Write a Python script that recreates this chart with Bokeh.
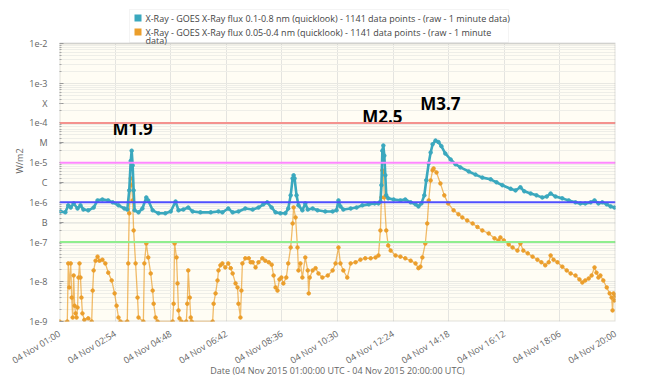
from bokeh.plotting import figure
from bokeh.models import (Range1d, FixedTicker, CustomJSTickFormatter, Span, BoxAnnotation,
                          Label, ColumnDataSource)
from bokeh.embed import file_html
from bokeh.resources import INLINE
from bokeh.core.properties import value

# ---------------- data ----------------
long_times = [
    "01:02", "01:12", "01:18", "01:23", "01:29", "01:37", "01:43", "01:49", "01:59", "02:10",
    "02:18", "02:28", "02:40", "02:49", "03:01", "03:13", "03:19", "03:23", "03:26", "03:28",
    "03:30", "03:32", "03:34", "03:42", "03:50", "03:58", "04:02", "04:11", "04:23", "04:37",
    "04:48", "04:58", "05:04", "05:14", "05:24", "05:33", "05:49", "06:10", "06:26", "06:34",
    "06:46", "06:55", "07:07", "07:21", "07:36", "07:48", "07:58", "08:06", "08:15", "08:23",
    "08:33", "08:43", "08:49", "08:54", "08:58", "09:00", "09:02", "09:06", "09:10", "09:18",
    "09:24", "09:29", "09:39", "09:49", "10:05", "10:20", "10:28", "10:32", "10:36", "10:42",
    "10:57", "11:09", "11:21", "11:34", "11:46", "11:54", "11:58", "12:00", "12:02", "12:04",
    "12:06", "12:08", "12:10", "12:14", "12:25", "12:39", "12:49", "13:00", "13:10", "13:16",
    "13:22", "13:28", "13:32", "13:37", "13:41", "13:45", "13:51", "13:57", "14:03", "14:11",
    "14:22", "14:32", "14:42", "14:59", "15:13", "15:27", "15:44", "15:56", "16:08", "16:25",
    "16:35", "16:45", "16:53", "17:06", "17:18", "17:30", "17:39", "17:47", "17:57", "18:11",
    "18:24", "18:38", "18:48", "18:58", "19:09", "19:17", "19:25", "19:33", "19:42", "19:50",
    "19:58",
]
long_flux = [
    5.9e-7, 5.6e-7, 8.4e-7, 7.4e-7, 9.4e-7, 7.0e-7, 8.4e-7, 6.6e-7, 6.3e-7, 7.4e-7,
    1.12e-6, 1.18e-6, 1.12e-6, 1.0e-6, 8.4e-7, 7.0e-7, 6.6e-7, 2.0e-6, 1.1e-5, 2.0e-5,
    8.5e-6, 2.0e-6, 6.3e-7, 5.6e-7, 7.0e-7, 1.33e-6, 1.12e-6, 6.3e-7, 5.3e-7, 5.3e-7,
    5.9e-7, 1.05e-6, 6.3e-7, 6.6e-7, 7.4e-7, 5.9e-7, 5.6e-7, 5.6e-7, 5.9e-7, 5.6e-7,
    7.0e-7, 5.6e-7, 5.9e-7, 7.0e-7, 6.6e-7, 7.4e-7, 8.9e-7, 1.0e-6, 7.4e-7, 5.6e-7,
    5.3e-7, 5.3e-7, 7.0e-7, 1.5e-6, 4.0e-6, 4.8e-6, 4.0e-6, 1.5e-6, 8.4e-7, 6.3e-7,
    9.4e-7, 6.6e-7, 7.0e-7, 6.3e-7, 5.9e-7, 5.9e-7, 6.3e-7, 1.12e-6, 7.9e-7, 6.6e-7,
    7.0e-7, 7.4e-7, 8.4e-7, 8.9e-7, 9.4e-7, 9.4e-7, 1.05e-6, 2.7e-6, 2.0e-5, 2.7e-5,
    1.5e-5, 4.8e-6, 1.5e-6, 1.26e-6, 1.18e-6, 1.12e-6, 1.18e-6, 1.0e-6, 8.9e-7, 7.9e-7,
    9.4e-7, 1.5e-6, 3.6e-6, 9.6e-6, 1.8e-5, 2.9e-5, 3.6e-5, 3.3e-5, 2.6e-5, 1.7e-5,
    1.2e-5, 9.1e-6, 7.6e-6, 6.0e-6, 5.0e-6, 4.2e-6, 3.8e-6, 3.2e-6, 2.7e-6, 2.2e-6,
    2.0e-6, 2.4e-6, 1.9e-6, 1.67e-6, 1.5e-6, 1.33e-6, 1.4e-6, 1.67e-6, 1.4e-6, 1.26e-6,
    1.12e-6, 1.0e-6, 9.4e-7, 9.4e-7, 1.0e-6, 1.12e-6, 9.4e-7, 1.0e-6, 8.9e-7, 7.9e-7,
    7.4e-7,
]

short_times = [
    "01:00", "01:16", "01:18", "01:20", "01:23", "01:25", "01:27", "01:29", "01:31", "01:33",
    "01:35", "01:37", "01:39", "01:41", "01:43", "01:45", "01:47", "01:51", "01:59", "02:06",
    "02:08", "02:10", "02:14", "02:18", "02:22", "02:28", "02:34", "02:40", "02:47", "02:53",
    "02:57", "03:01", "03:05", "03:19", "03:21", "03:23", "03:26", "03:28", "03:30", "03:32",
    "03:36", "03:40", "03:42", "03:52", "03:54", "03:58", "04:02", "04:07", "04:11", "04:13",
    "04:17", "04:21", "04:52", "04:54", "04:56", "05:00", "05:02", "05:04", "05:06", "05:10",
    "05:20", "05:22", "05:24", "05:27", "05:29", "05:31", "06:14", "06:16", "06:20", "06:24",
    "06:26", "06:30", "06:34", "06:40", "06:46", "06:51", "06:55", "07:01", "07:05", "07:07",
    "07:11", "07:13", "07:15", "07:21", "07:28", "07:32", "07:36", "07:42", "07:48", "07:56",
    "08:02", "08:09", "08:15", "08:19", "08:23", "08:27", "08:31", "08:35", "08:39", "08:45",
    "08:49", "08:54", "08:58", "09:00", "09:04", "09:08", "09:10", "09:14", "09:18", "09:24",
    "09:29", "09:31", "09:33", "09:39", "09:45", "09:51", "09:59", "10:10", "10:20", "10:26",
    "10:32", "10:36", "10:42", "10:50", "10:57", "11:07", "11:17", "11:27", "11:38", "11:48",
    "11:54", "11:58", "12:00", "12:02", "12:04", "12:06", "12:10", "12:14", "12:19", "12:29",
    "12:39", "12:49", "13:00", "13:10", "13:16", "13:20", "13:24", "13:30", "13:34", "13:37",
    "13:41", "13:45", "13:47", "13:53", "14:01", "14:09", "14:17", "14:28", "14:38", "14:46",
    "14:56", "15:07", "15:17", "15:27", "15:40", "15:52", "16:00", "16:04", "16:11", "16:21",
    "16:29", "16:39", "16:45", "16:51", "17:00", "17:10", "17:20", "17:28", "17:36", "17:43",
    "17:47", "17:53", "18:01", "18:11", "18:20", "18:28", "18:38", "18:46", "18:52", "18:58",
    "19:05", "19:11", "19:17", "19:21", "19:25", "19:29", "19:35", "19:42", "19:48", "19:52",
    "19:54", "19:56", "19:58", "20:00",
]
short_flux = [
    1e-9, 1e-9, 2.9e-8, 7.2e-9, 2.9e-8, 4.0e-9, 1.26e-9, 1.44e-8, 2.5e-9, 1.6e-9,
    1.26e-9, 2.25e-9, 1.28e-8, 2.9e-8, 1.28e-8, 4.0e-9, 1.6e-9, 1.1e-9, 1.2e-9, 1e-9,
    6.0e-9, 1.93e-8, 3.4e-8, 4.3e-8, 3.4e-8, 3.6e-8, 2.9e-8, 1.7e-8, 1.08e-8, 5.1e-9,
    2.5e-9, 1.26e-9, 1e-9, 1e-9, 2.9e-8, 5.3e-7, 4.0e-6, 2.7e-6, 1.12e-6, 1.96e-7,
    2.9e-8, 4.0e-9, 1.26e-9, 1e-9, 2.9e-8, 9.2e-8, 4.1e-8, 1.62e-8, 6.0e-9, 2.8e-9,
    1.26e-9, 1e-9, 1e-9, 2.8e-9, 9.2e-8, 4.1e-8, 9.1e-9, 1.9e-9, 1.2e-9, 1e-9,
    1e-9, 2.8e-9, 1.93e-8, 4.0e-9, 1.26e-9, 1e-9, 1e-9, 2.8e-9, 5.1e-9, 1.08e-8,
    1.93e-8, 2.6e-8, 2.9e-8, 2.3e-8, 2.9e-8, 2.2e-8, 1.62e-8, 9.1e-9, 7.2e-9, 2.8e-9,
    1.26e-9, 6.0e-9, 2.9e-8, 3.9e-8, 3.9e-8, 3.1e-8, 3.1e-8, 2.3e-8, 3.1e-8, 3.9e-8,
    3.4e-8, 3.1e-8, 2.7e-8, 1.44e-8, 7.2e-9, 6.0e-9, 1.15e-8, 1.28e-8, 9.1e-9, 1.28e-8,
    2.9e-8, 7.3e-8, 2.94e-7, 7.45e-7, 4.17e-7, 7.3e-8, 1.93e-8, 2.9e-8, 1.28e-8, 4.1e-8,
    1.93e-8, 5.1e-9, 1.28e-8, 1.93e-8, 2.2e-8, 1.62e-8, 1.28e-8, 1.44e-8, 1.93e-8, 2.9e-8,
    7.3e-8, 2.9e-8, 1.93e-8, 1.28e-8, 2.9e-8, 3.1e-8, 3.6e-8, 3.9e-8, 3.9e-8, 4.1e-8,
    4.6e-8, 1.96e-7, 1.33e-6, 6.4e-6, 5.7e-6, 1.33e-6, 1.96e-7, 8.2e-8, 6.1e-8, 4.6e-8,
    4.3e-8, 3.9e-8, 3.4e-8, 2.9e-8, 2.2e-8, 2.4e-8, 4.1e-8, 9.2e-8, 2.94e-7, 1.12e-6,
    3.56e-6, 6.4e-6, 7.15e-6, 5.66e-6, 2.99e-6, 1.5e-6, 9.4e-7, 6.3e-7, 5.0e-7, 4.17e-7,
    3.5e-7, 2.94e-7, 2.4e-7, 1.96e-7, 1.65e-7, 1.24e-7, 1.10e-7, 1.31e-7, 1.10e-7, 8.7e-8,
    7.3e-8, 6.1e-8, 9.2e-8, 6.1e-8, 5.2e-8, 4.3e-8, 3.6e-8, 3.1e-8, 2.6e-8, 3.1e-8,
    4.6e-8, 3.6e-8, 3.1e-8, 2.4e-8, 1.93e-8, 1.62e-8, 1.44e-8, 1.15e-8, 9.6e-9, 1.08e-8,
    1.21e-8, 1.44e-8, 2.3e-8, 1.7e-8, 1.28e-8, 1.44e-8, 1.08e-8, 7.2e-9, 5.1e-9, 4.0e-9,
    1.9e-9, 5.1e-9, 3.4e-9, 4.5e-9,
]

x_tick_times = ["01:00", "02:54", "04:48", "06:42", "08:36", "10:30",
                "12:24", "14:18", "16:12", "18:06", "20:00"]
y_decades = [1e-9, 1e-8, 1e-7, 1e-6, 1e-5, 1e-4, 1e-3, 1e-2]
class_letters = ["B", "C", "M", "X"]
class_positions = [3.1623e-7, 3.1623e-6, 3.1623e-5, 3.1623e-4]
threshold_levels = [1e-4, 1e-5, 1e-6, 1e-7]
threshold_colors = ["#f4928e", "#ff88ff", "#4f4fff", "#8fee8f"]
flare_names = ["M1.9", "M2.5", "M3.7"]
flare_label_times = ["03:30", "12:02", "14:01"]
flare_label_flux = [7.3e-5, 1.46e-4, 3.1e-4]

legend_long = "X-Ray - GOES X-Ray flux 0.1-0.8 nm (quicklook) - 1141 data points -  (raw - 1 minute data)"
legend_short_lines = ["X-Ray - GOES X-Ray flux 0.05-0.4 nm (quicklook) - 1141 data points -  (raw - 1 minute",
                      "data)"]
x_title = "Date (04 Nov 2015 01:00:00 UTC - 04 Nov 2015 20:00:00 UTC)"

assert len(long_times) == len(long_flux)
assert len(short_times) == len(short_flux)


def to_min(s):
    h, m = s.split(":")
    return int(h) * 60 + int(m)


TEAL = "#3aa8be"
ORANGE = "#eb9e2b"
FONT = "Open Sans"

# layout (pixels): plot box 59..615 x 43..321; the frame extends to the top edge
# so that the legend (drawn inside the frame) can sit above the plot box.
BOX_TOP_PX, BOX_BOTTOM_PX = 43, 321
px_per_decade = (BOX_BOTTOM_PX - BOX_TOP_PX) / 7.0
y_top = 1e-2 * 10 ** (BOX_TOP_PX / px_per_decade)
x0, x1 = to_min(x_tick_times[0]), to_min(x_tick_times[-1])

p = figure(width=654, height=381, y_axis_type="log",
           x_range=Range1d(x0, x1), y_range=Range1d(y_decades[0], y_top),
           output_backend="svg", toolbar_location=None,
           min_border_left=59, min_border_right=39, min_border_top=0, min_border_bottom=60)
p.background_fill_color = "white"
p.border_fill_color = "white"
p.outline_line_color = None

# plot box background and frame
p.add_layout(BoxAnnotation(left=x0, right=x1, bottom=y_decades[0], top=y_decades[-1],
                           fill_color="#fffdf4", fill_alpha=1.0, line_color=None, level="image"))
p.add_layout(BoxAnnotation(left=x0, right=x1, bottom=y_decades[0], top=y_decades[-1],
                           fill_color=None, fill_alpha=0, line_color="#9c9c9c", line_width=2,
                           level="overlay"))

# threshold lines
for lev, col in zip(threshold_levels, threshold_colors):
    p.add_layout(Span(location=lev, dimension="width", line_color=col, line_width=2))

long_src = ColumnDataSource(dict(t=[to_min(s) for s in long_times], f=long_flux))
short_src = ColumnDataSource(dict(t=[to_min(s) for s in short_times], f=short_flux))

p.line("t", "f", source=short_src, color=ORANGE, line_width=1.3, line_alpha=0.7)
p.scatter("t", "f", source=short_src, color=ORANGE, size=3.5)
p.line("t", "f", source=long_src, color=TEAL, line_width=2.6)
p.scatter("t", "f", source=long_src, color=TEAL, size=3.5)

# flare labels
flare_src = ColumnDataSource(dict(t=[to_min(s) for s in flare_label_times], f=flare_label_flux,
                                  n=flare_names))
p.text("t", "f", text="n", source=flare_src, text_font=value(FONT), text_font_style="bold",
       text_font_size="17px", text_color="black", text_align="center", text_baseline="middle")

# axes
p.xaxis.ticker = FixedTicker(ticks=[to_min(s) for s in x_tick_times])
p.xaxis.formatter = CustomJSTickFormatter(code="""
const h = Math.floor(tick / 60), m = Math.round(tick - h * 60);
return "04 Nov " + String(h).padStart(2, "0") + ":" + String(m).padStart(2, "0");
""")
p.xaxis.major_label_orientation = 0.55
p.xaxis.major_label_text_font = FONT
p.xaxis.major_label_text_font_size = "9px"
p.xaxis.major_label_text_color = "#666666"
p.xaxis.major_label_standoff = 5
p.xaxis.axis_line_color = None
p.xaxis.major_tick_line_color = None
p.xaxis.minor_tick_line_color = None
p.xaxis.axis_label = x_title
p.xaxis.axis_label_text_font = FONT
p.xaxis.axis_label_text_font_size = "9px"
p.xaxis.axis_label_text_font_style = "normal"
p.xaxis.axis_label_text_color = "#666666"
p.xaxis.axis_label_standoff = -11

minor = [k * d for d in y_decades[:-1] for k in range(2, 10)]
p.yaxis.ticker = FixedTicker(ticks=y_decades + class_positions, minor_ticks=minor)
p.yaxis.formatter = CustomJSTickFormatter(args=dict(letters=class_letters, pos=class_positions), code="""
const e = Math.log10(tick);
if (Math.abs(e - Math.round(e)) < 0.01) return "1e" + Math.round(e);
for (let i = 0; i < pos.length; i++) {
  if (Math.abs(Math.log10(pos[i]) - e) < 0.01) return letters[i];
}
return "";
""")
p.yaxis.major_label_text_font = FONT
p.yaxis.major_label_text_font_size = "9px"
p.yaxis.major_label_text_color = "#666666"
p.yaxis.axis_line_color = None
p.yaxis.major_tick_in = 4
p.yaxis.major_tick_out = 0
p.yaxis.minor_tick_in = 2
p.yaxis.minor_tick_out = 0
p.yaxis.major_tick_line_color = "#999999"
p.yaxis.minor_tick_line_color = "#aaaaaa"
p.yaxis.major_label_standoff = 12
p.yaxis.axis_label = "W/m2"
p.yaxis.axis_label_text_font = FONT
p.yaxis.axis_label_text_font_size = "9px"
p.yaxis.axis_label_text_font_style = "normal"
p.yaxis.axis_label_text_color = "#666666"
p.yaxis.axis_label_standoff = 0

p.xgrid.grid_line_color = "#e4e4e0"
p.xgrid.cross_bounds = (y_decades[0], y_decades[-1])
p.ygrid.grid_line_color = "#e8e8e2"
p.ygrid.minor_grid_line_color = "#eeeee8"

# legend drawn as annotations (screen units measured from the frame's bottom-left)
def up(py):  # page y (from top) -> screen units above frame bottom
    return BOX_BOTTOM_PX - py


def right(px):  # page x -> screen units from frame left
    return px - 59


p.add_layout(BoxAnnotation(left=right(129), right=right(508), top=up(9), bottom=up(42),
                           left_units="screen", right_units="screen", top_units="screen",
                           bottom_units="screen", fill_color="white", fill_alpha=1.0,
                           line_color="#dcdcdc", line_width=1))
for col, ty in ((TEAL, 14), (ORANGE, 28)):
    p.add_layout(BoxAnnotation(left=right(134), right=right(141), top=up(ty), bottom=up(ty + 7),
                               left_units="screen", right_units="screen", top_units="screen",
                               bottom_units="screen", fill_color=col, fill_alpha=1.0,
                               line_color=None))
for txt, ty in ((legend_long, 18), (legend_short_lines[0], 31.5), (legend_short_lines[1], 40)):
    p.add_layout(Label(x=right(145), y=up(ty), x_units="screen", y_units="screen", text=txt,
                       text_align="left", text_baseline="middle", text_font=FONT,
                       text_font_size="9px", text_color="#444444"))

open("out.html", "w").write(file_html(p, INLINE))
